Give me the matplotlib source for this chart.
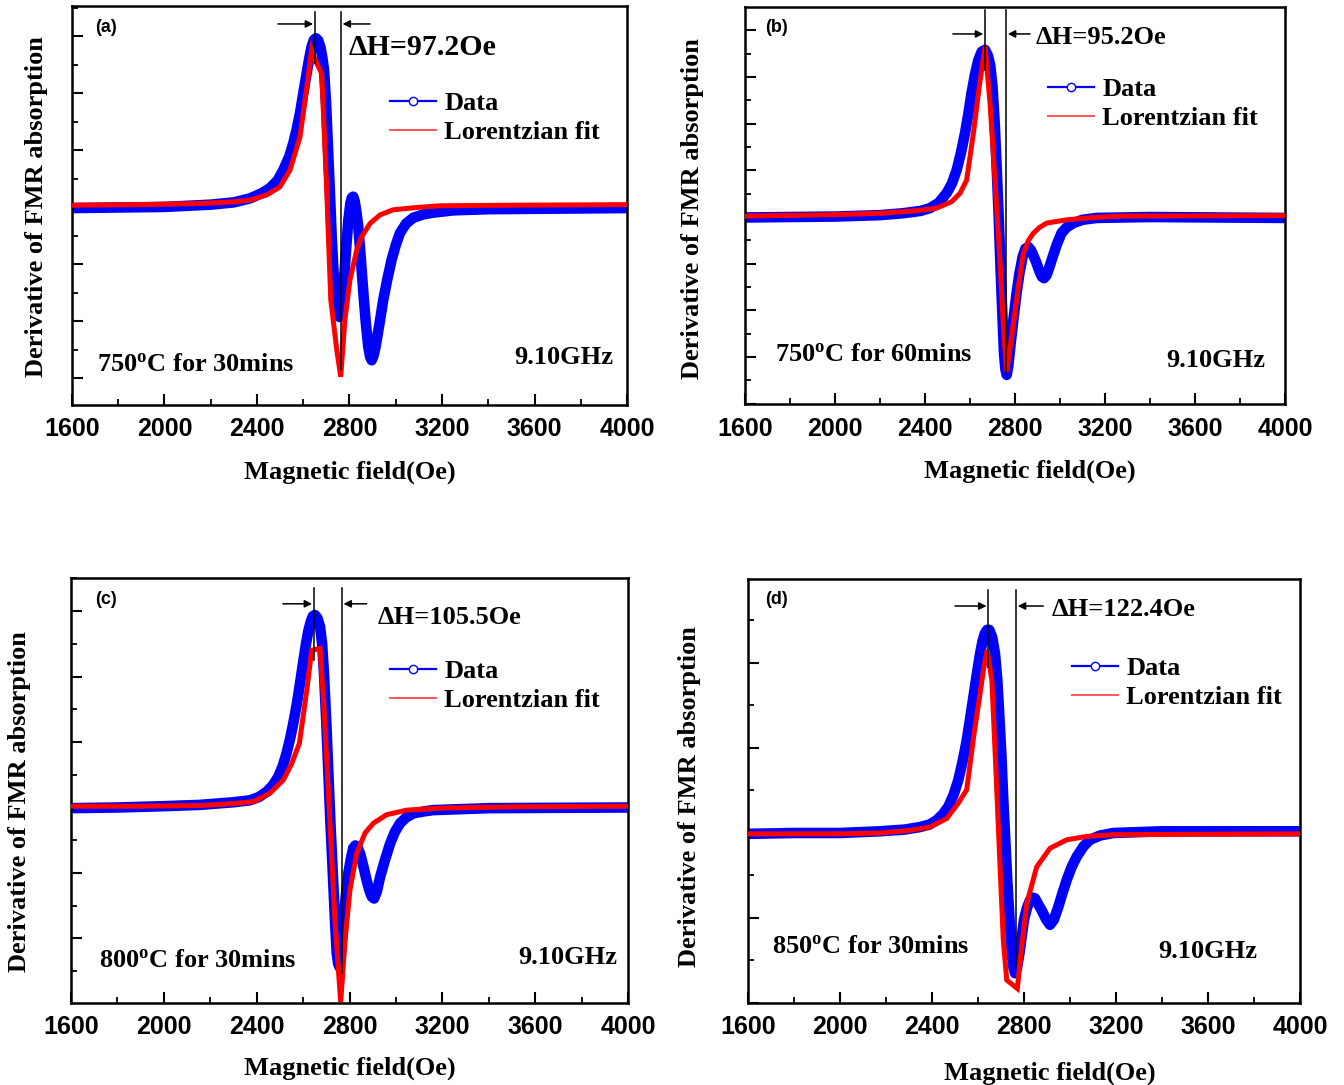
import matplotlib
matplotlib.use('Agg')
import matplotlib.pyplot as plt
from matplotlib.lines import Line2D
from matplotlib.ticker import MultipleLocator

# ---------------- data (field in Oe, derivative signal in arbitrary units) -------------
a_data_x = [1600, 1800, 2000, 2100, 2200, 2300, 2370, 2420, 2456, 2490, 2514, 2540, 2557, 2572,
            2586, 2600, 2615, 2626, 2636, 2646, 2655, 2665, 2675, 2683, 2690, 2699, 2708, 2716,
            2723, 2730, 2737, 2746, 2752, 2756, 2762, 2770, 2776, 2786, 2795, 2804, 2810, 2816,
            2822, 2830, 2838, 2849, 2860, 2870, 2881, 2889, 2896, 2904, 2911, 2918, 2932, 2946,
            2964, 2982, 3000, 3018, 3045, 3076, 3120, 3162, 3250, 3400, 3700, 4000]
a_data_y = [-0.01, 0.00, 0.01, 0.03, 0.05, 0.09, 0.16, 0.25, 0.34, 0.48, 0.66, 0.90, 1.13, 1.38,
            1.66, 2.00, 2.36, 2.62, 2.82, 2.94, 2.97, 2.93, 2.80, 2.62, 2.41, 1.80, 0.96, 0.20,
            -0.51, -1.05, -1.50, -1.80, -1.90, -1.92, -1.80, -1.50, -1.27, -0.70, -0.22, 0.08,
            0.17, 0.19, 0.12, -0.08, -0.34, -0.90, -1.50, -2.00, -2.44, -2.62, -2.68, -2.60,
            -2.48, -2.32, -1.98, -1.62, -1.25, -0.92, -0.66, -0.45, -0.28, -0.18, -0.12, -0.09,
            -0.05, -0.03, -0.02, -0.01]
a_fit_x = [1600, 1900, 2153, 2300, 2370, 2442, 2499, 2543, 2586, 2612, 2636, 2651, 2680, 2701,
           2719, 2745, 2762, 2780, 2802, 2831, 2853, 2889, 2932, 2989, 3090, 3191, 3500, 4000]
a_fit_y = [0.04, 0.05, 0.07, 0.10, 0.13, 0.22, 0.36, 0.66, 1.24, 2.01, 2.76, 2.59, 2.35, 0.36,
           -1.62, -2.50, -2.97, -1.97, -1.27, -0.75, -0.51, -0.28, -0.13, -0.04, 0.00, 0.03,
           0.04, 0.05]

b_data_x = [1600, 1800, 2000, 2200, 2300, 2380, 2422, 2460, 2496, 2520, 2541, 2560, 2578, 2593,
            2607, 2622, 2637, 2652, 2667, 2680, 2690, 2700, 2710, 2719, 2728, 2736, 2744, 2751,
            2757, 2763, 2770, 2781, 2794, 2807, 2820, 2834, 2846, 2859, 2872, 2884, 2896, 2910,
            2920, 2929, 2940, 2951, 2963, 2985, 3007, 3030, 3059, 3100, 3163, 3400, 4000]
b_data_y = [-0.01, 0.00, 0.01, 0.04, 0.08, 0.13, 0.19, 0.30, 0.51, 0.72, 1.01, 1.38, 1.80, 2.22,
            2.66, 3.05, 3.36, 3.54, 3.58, 3.45, 3.25, 2.80, 2.00, 1.01, -0.05, -1.13, -2.10,
            -2.91, -3.25, -3.38, -3.20, -2.70, -2.15, -1.63, -1.20, -0.85, -0.68, -0.64, -0.72,
            -0.85, -0.99, -1.18, -1.28, -1.31, -1.25, -1.10, -0.92, -0.60, -0.34, -0.22, -0.13,
            -0.06, -0.02, 0.00, -0.02]
b_fit_x = [1600, 2000, 2200, 2352, 2452, 2519, 2556, 2585, 2615, 2641, 2667, 2689, 2711, 2733,
           2751, 2763, 2785, 2815, 2837, 2860, 2881, 2910, 2941, 3030, 3148, 3267, 4000]
b_fit_y = [0.02, 0.05, 0.08, 0.13, 0.19, 0.33, 0.51, 0.79, 1.79, 2.79, 3.65, 2.44, 0.79, -0.92,
           -2.56, -3.31, -2.56, -1.49, -0.78, -0.50, -0.35, -0.22, -0.13, -0.06, -0.01, 0.02,
           0.03]

c_data_x = [1600, 1800, 2000, 2156, 2300, 2371, 2410, 2443, 2470, 2493, 2512, 2529, 2544, 2558,
            2573, 2587, 2600, 2613, 2623, 2633, 2642, 2651, 2662, 2673, 2682, 2690, 2700, 2709,
            2718, 2728, 2737, 2745, 2751, 2756, 2764, 2773, 2784, 2795, 2806, 2816, 2825, 2834,
            2847, 2860, 2873, 2885, 2896, 2906, 2918, 2932, 2953, 2975, 2996, 3018, 3045, 3075,
            3120, 3161, 3400, 4000]
c_data_y = [-0.01, 0.00, 0.02, 0.04, 0.08, 0.11, 0.16, 0.24, 0.34, 0.47, 0.63, 0.83, 1.05, 1.29,
            1.58, 1.90, 2.21, 2.51, 2.70, 2.84, 2.92, 2.94, 2.89, 2.76, 2.50, 2.05, 1.30, 0.52,
            -0.25, -1.00, -1.70, -2.23, -2.38, -2.43, -2.20, -1.77, -1.35, -1.00, -0.78, -0.62,
            -0.58, -0.60, -0.72, -0.90, -1.10, -1.26, -1.36, -1.39, -1.28, -1.06, -0.80, -0.55,
            -0.37, -0.24, -0.15, -0.09, -0.06, -0.04, -0.01, 0.00]
c_fit_x = [1600, 1900, 2156, 2300, 2386, 2458, 2515, 2551, 2584, 2616, 2637, 2673, 2690, 2716,
           2738, 2762, 2781, 2802, 2831, 2867, 2903, 2960, 3047, 3190, 3500, 4000]
c_fit_y = [0.02, 0.02, 0.03, 0.06, 0.09, 0.22, 0.42, 0.67, 0.98, 1.79, 2.40, 2.43, 1.54, -0.24,
           -1.77, -2.97, -2.02, -1.26, -0.70, -0.39, -0.24, -0.11, -0.04, -0.01, 0.01, 0.02]

d_data_x = [1600, 1800, 2000, 2174, 2280, 2348, 2390, 2420, 2447, 2471, 2494, 2514, 2533, 2551,
            2566, 2580, 2595, 2609, 2620, 2630, 2640, 2649, 2662, 2674, 2684, 2693, 2702, 2710,
            2719, 2728, 2738, 2747, 2754, 2761, 2770, 2780, 2790, 2800, 2813, 2826, 2837, 2848,
            2862, 2877, 2895, 2913, 2930, 2949, 2967, 2986, 3007, 3029, 3058, 3087, 3130, 3188,
            3400, 4000]
d_data_y = [-0.01, 0.00, 0.00, 0.02, 0.04, 0.07, 0.10, 0.15, 0.22, 0.31, 0.45, 0.62, 0.84, 1.09,
            1.35, 1.60, 1.87, 2.11, 2.26, 2.35, 2.39, 2.39, 2.30, 2.11, 1.80, 1.37, 0.90, 0.39,
            -0.10, -0.59, -1.05, -1.42, -1.58, -1.65, -1.58, -1.42, -1.22, -1.02, -0.88, -0.79,
            -0.76, -0.77, -0.84, -0.91, -1.01, -1.08, -1.02, -0.87, -0.71, -0.55, -0.40, -0.28,
            -0.16, -0.08, -0.03, 0.00, 0.02, 0.02]
d_fit_x = [1600, 2000, 2174, 2300, 2391, 2464, 2514, 2551, 2583, 2609, 2626, 2640, 2660, 2674,
           2696, 2710, 2725, 2771, 2790, 2812, 2855, 2913, 2986, 3073, 3188, 4000]
d_fit_y = [-0.01, -0.01, 0.00, 0.03, 0.07, 0.17, 0.35, 0.51, 1.17, 1.64, 1.96, 2.15, 1.80, 0.98,
           -0.40, -1.26, -1.73, -1.83, -1.34, -0.83, -0.40, -0.18, -0.08, -0.04, -0.02, -0.01]

# linewidth markers (field positions of the two vertical lines) and labels
a_marks = [2651, 2762]
b_marks = [2667, 2760]
c_marks = [2647, 2766]
d_marks = [2645, 2765]
panel_tags = ['(a)', '(b)', '(c)', '(d)']
dh_labels = ['ΔH=97.2Oe', 'ΔH=95.2Oe', 'ΔH=105.5Oe', 'ΔH=122.4Oe']
cond_labels = ['750$^{\\mathrm{o}}$C for 30mins', '750$^{\\mathrm{o}}$C for 60mins',
               '800$^{\\mathrm{o}}$C for 30mins', '850$^{\\mathrm{o}}$C for 30mins']
freq_label = '9.10GHz'
x_ticks = [1600, 2000, 2400, 2800, 3200, 3600, 4000]
legend_labels = ['Data', 'Lorentzian fit']
xlabel = 'Magnetic field(Oe)'
ylabel = 'Derivative of FMR absorption'

# ---------------- style / layout -------------
W, H, DPI = 1344, 1085, 100
plt.rcParams['font.family'] = ['Liberation Serif', 'DejaVu Serif']
plt.rcParams['mathtext.fontset'] = 'custom'
plt.rcParams['mathtext.rm'] = 'Liberation Serif:bold'
plt.rcParams['mathtext.it'] = 'Liberation Serif:bold'
plt.rcParams['mathtext.bf'] = 'Liberation Serif:bold'

fig = plt.figure(figsize=(W / DPI, H / DPI), dpi=DPI)


def fx(x):
    return x / W


def fy(y):
    return 1 - y / H


layout = [
    dict(box=(72, 6, 627, 405), ylim=(-3.465, 3.535), minor=0.5, major=1.0,
         arrow_y=3.22, top=3.43, lbot=2.54, rbot=-2.85, arr=(2491, 2889),
         tag=(95, 27), dh=(349, 55), dhsize=21.5, cond=(97, 371), freq=(613, 364),
         leg=(390, 118), xl=(350, 472), yl=(37, 207)),
    dict(box=(745, 7, 1285, 404), ylim=(-4.004, 4.497), minor=0.5, major=1.0,
         arrow_y=3.92, top=4.43, lbot=3.15, rbot=-3.34, arr=(2524, 2867),
         tag=(765, 27), dh=(1036, 44), dhsize=19, cond=(775, 361), freq=(1265, 367),
         leg=(1048, 104), xl=(1030, 471), yl=(693, 209)),
    dict(box=(71, 578, 628, 1003), ylim=(-2.985, 3.504), minor=0.5, major=1.0,
         arrow_y=3.11, top=3.35, lbot=2.25, rbot=-2.53, arr=(2513, 2874),
         tag=(95, 600), dh=(378, 624), dhsize=19, cond=(99, 967), freq=(617, 964),
         leg=(390, 686), xl=(350, 1068), yl=(20, 802)),
    dict(box=(748, 579, 1300, 1003), ylim=(-2.0, 2.988), minor=0.5, major=1.0,
         arrow_y=2.67, top=2.86, lbot=1.95, rbot=-1.58, arr=(2500, 2884),
         tag=(765, 600), dh=(1052, 616), dhsize=19, cond=(772, 953), freq=(1257, 958),
         leg=(1072, 683), xl=(1050, 1073), yl=(690, 797)),
]

series = [
    (a_data_x, a_data_y, a_fit_x, a_fit_y, a_marks),
    (b_data_x, b_data_y, b_fit_x, b_fit_y, b_marks),
    (c_data_x, c_data_y, c_fit_x, c_fit_y, c_marks),
    (d_data_x, d_data_y, d_fit_x, d_fit_y, d_marks),
]

serif_bold = dict(family=['Liberation Serif', 'DejaVu Serif'], weight='bold', size=19)
sans_bold = dict(family=['Liberation Sans', 'DejaVu Sans'], weight='bold')

for i, (lay, (dx, dy, fxs, fys, marks)) in enumerate(zip(layout, series)):
    l, t, r, b = lay['box']
    ax = fig.add_axes([fx(l), fy(b), (r - l) / W, (b - t) / H])
    ax.plot(dx, dy, color='#0000ff', lw=7.6, solid_joinstyle='round',
            solid_capstyle='butt', zorder=2)
    ax.plot(fxs, fys, color='#ff0000', lw=3.6, solid_joinstyle='miter', zorder=3)
    ax.set_xlim(1600, 4000)
    ax.set_ylim(*lay['ylim'])
    ax.set_xticks(x_ticks)
    ax.xaxis.set_minor_locator(MultipleLocator(200))
    ax.yaxis.set_major_locator(MultipleLocator(lay['major']))
    ax.yaxis.set_minor_locator(MultipleLocator(lay['minor']))
    ax.tick_params(which='major', direction='in', length=8, width=1.5,
                   top=False, right=False, labelleft=False, pad=9)
    ax.tick_params(which='minor', direction='in', length=4.5, width=1.3,
                   top=False, right=False)
    for lab in ax.get_xticklabels():
        lab.set_fontproperties(sans_bold)
        lab.set_fontsize(18)
    for s in ax.spines.values():
        s.set_linewidth(1.8)

    # linewidth annotation
    ax.plot([marks[0], marks[0]], [lay['lbot'], lay['top']], color='black', lw=1.1, zorder=4)
    ax.plot([marks[1], marks[1]], [lay['rbot'], lay['top']], color='black', lw=1.1, zorder=4)
    ax.annotate('', xy=(marks[0] - 8, lay['arrow_y']), xytext=(lay['arr'][0], lay['arrow_y']),
                arrowprops=dict(arrowstyle='-|>', color='black', lw=1.1, mutation_scale=11,
                                shrinkA=0, shrinkB=0))
    ax.annotate('', xy=(marks[1] + 8, lay['arrow_y']), xytext=(lay['arr'][1], lay['arrow_y']),
                arrowprops=dict(arrowstyle='-|>', color='black', lw=1.1, mutation_scale=11,
                                shrinkA=0, shrinkB=0))

    # legend
    handles = [Line2D([], [], color='#0000ff', lw=1.6, marker='o', ms=6, mfc='white',
                      mec='#0000ff', mew=1.0),
               Line2D([], [], color='#ff5555', lw=1.4)]
    ax.legend(handles, legend_labels, loc='center left',
              bbox_to_anchor=(fx(lay['leg'][0]), fy(lay['leg'][1])),
              bbox_transform=fig.transFigure, frameon=False, prop=serif_bold,
              handlelength=1.75, handletextpad=0.3, borderpad=0, borderaxespad=0,
              labelspacing=0.2)

    # texts
    fig.text(fx(lay['tag'][0]), fy(lay['tag'][1]), panel_tags[i], ha='left', va='center',
             fontsize=13, **sans_bold)
    dh_font = dict(serif_bold)
    dh_font['size'] = lay['dhsize']
    fig.text(fx(lay['dh'][0]), fy(lay['dh'][1]), dh_labels[i], ha='left', va='baseline',
             **dh_font)
    fig.text(fx(lay['cond'][0]), fy(lay['cond'][1]), cond_labels[i], ha='left', va='baseline',
             **serif_bold)
    fig.text(fx(lay['freq'][0]), fy(lay['freq'][1]), freq_label, ha='right', va='baseline',
             **serif_bold)
    fig.text(fx(lay['xl'][0]), fy(lay['xl'][1]), xlabel, ha='center', va='center',
             **serif_bold)
    fig.text(fx(lay['yl'][0]), fy(lay['yl'][1]), ylabel, ha='center', va='center',
             rotation=90, **serif_bold)

fig.savefig('out.png', dpi=DPI)
